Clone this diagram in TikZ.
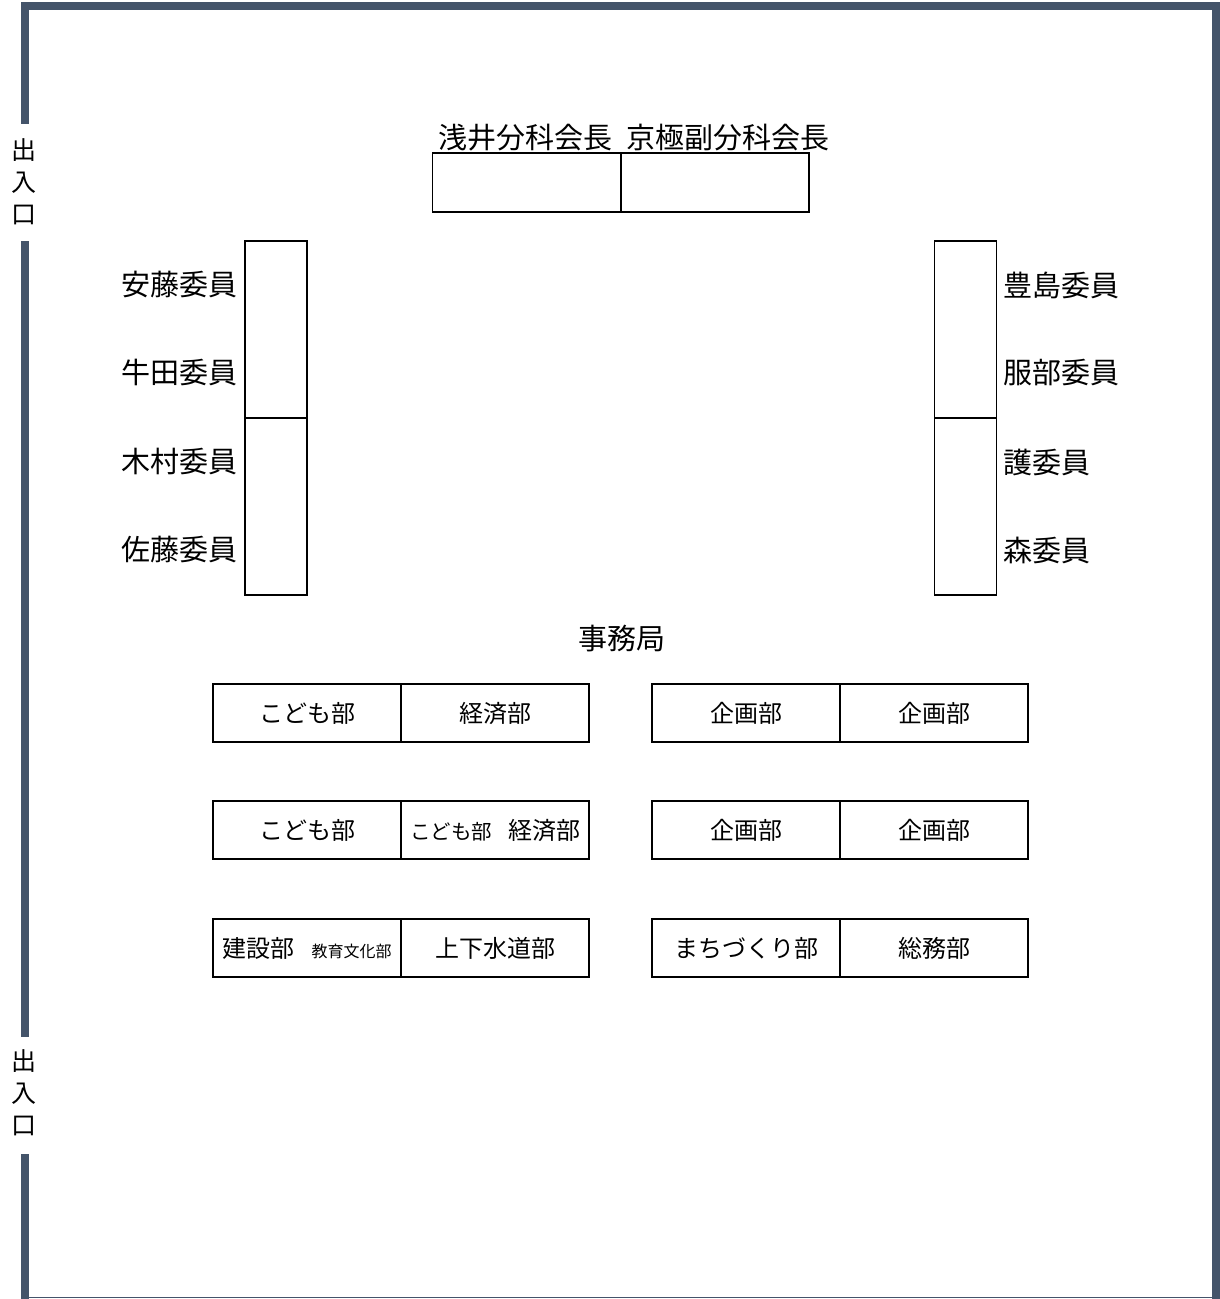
\documentclass[tikz,border=0pt]{standalone}
\usepackage{fontspec}
\setmainfont{Noto Sans CJK JP}
\definecolor{wall}{HTML}{44546A}
\begin{document}
\begin{tikzpicture}[x=1pt,y=-1pt,
  desk/.style={draw=black, line width=1.6pt, minimum width=188pt, minimum height=58pt, inner sep=0pt, font=\fontsize{24}{27}\selectfont},
  seat/.style={draw=black, line width=1.6pt, minimum width=62pt, minimum height=177pt, inner sep=0pt},
  chair/.style={draw=black, line width=1.6pt, minimum width=188pt, minimum height=59pt, inner sep=0pt},
  lbl/.style={inner sep=0pt, font=\fontsize{29}{32}\selectfont},
  door/.style={inner sep=0pt, align=center, font=\fontsize{25}{32}\selectfont}]
\useasboundingbox (0,0) rectangle (1220,1299);
% walls
\fill[wall] (21,2) rectangle (1220,10);
\fill[wall] (21,2) rectangle (29,124);
\fill[wall] (21,241) rectangle (29,1037);
\fill[wall] (21,1154) rectangle (29,1299);
\fill[wall] (1212,2) rectangle (1220,1299);
\draw[wall, line width=1.5pt] (29,1297.5) -- (1212,1297.5);
% entrances
\node[door] (door1) at (24,182) {出\\入\\口};
\node[door] (door2) at (24,1093) {出\\入\\口};
% chairs
\node[chair] (chairL) at (526.5,182.5) {};
\node[chair] (chairR) at (715,182.5) {};
\node[lbl] (chairLt) at (525,138) {浅井分科会長};
\node[lbl] (chairRt) at (728,138) {京極副分科会長};
% member seats
\node[seat] (seatL1) at (276,329.5) {};
\node[seat] (seatL2) at (276,506.5) {};
\node[seat] (seatR1) at (965.5,329.5) {};
\node[seat] (seatR2) at (965.5,506.5) {};
\node[lbl, anchor=east] (m1) at (238,285) {安藤委員};
\node[lbl, anchor=east] (m2) at (238,373) {牛田委員};
\node[lbl, anchor=east] (m3) at (238,462) {木村委員};
\node[lbl, anchor=east] (m4) at (238,550) {佐藤委員};
\node[lbl, anchor=west] (m5) at (1003,285) {豊島委員};
\node[lbl, anchor=west] (m6) at (1003,373) {服部委員};
\node[lbl, anchor=west] (m7) at (1003,462) {護委員};
\node[lbl, anchor=west] (m8) at (1003,550) {森委員};
% secretariat
\node[lbl] (jimu) at (622,638) {事務局};
% desks
\node[desk] (d11) at (307,713) {こども部};
\node[desk] (d12) at (495,713) {経済部};
\node[desk] (d13) at (746,713) {企画部};
\node[desk] (d14) at (934,713) {企画部};
\node[desk] (d21) at (307,830) {こども部};
\node[desk] (d22) at (495,830) {{\fontsize{20.5}{23}\selectfont こども部}\hspace{16pt}経済部};
\node[desk] (d23) at (746,830) {企画部};
\node[desk] (d24) at (934,830) {企画部};
\node[desk] (d31) at (307,948) {建設部\hspace{17pt}{\fontsize{16}{19}\selectfont 教育文化部}};
\node[desk] (d32) at (495,948) {上下水道部};
\node[desk] (d33) at (746,948) {まちづくり部};
\node[desk] (d34) at (934,948) {総務部};
\end{tikzpicture}
\end{document}
